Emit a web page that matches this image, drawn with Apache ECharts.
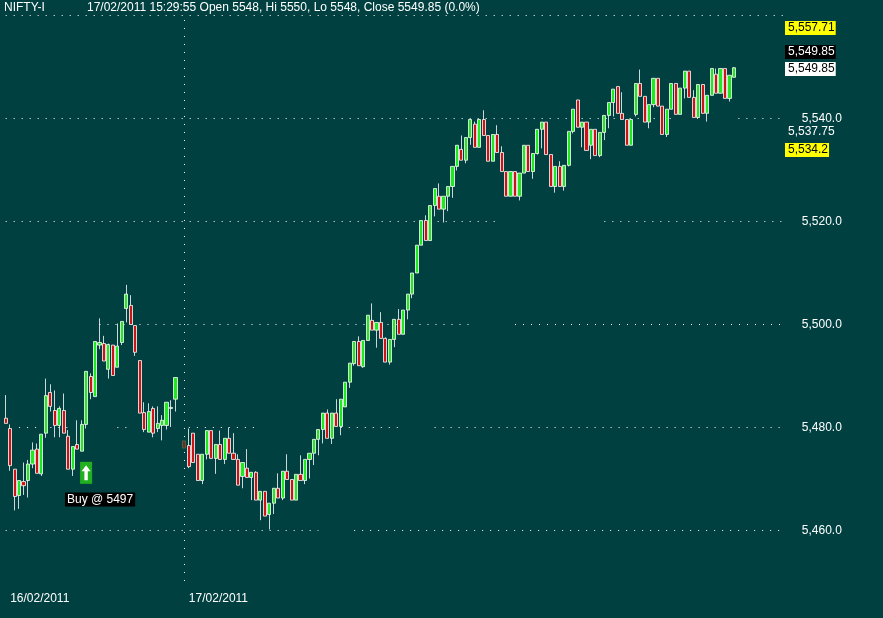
<!DOCTYPE html>
<html>
<head>
<meta charset="utf-8">
<style>html,body{margin:0;padding:0;background:#004040;overflow:hidden;width:883px;height:618px}#w{width:883px;height:618px;overflow:hidden}#c{width:883px;height:660px}</style>
<script src="https://cdn.jsdelivr.net/npm/echarts@6/dist/echarts.min.js"></script>
</head>
<body>
<div id="w"><div id="c"></div></div>
<script>
const symbolName = 'NIFTY-I';
const quoteLine = '17/02/2011 15:29:55 Open 5548, Hi 5550, Lo 5548, Close 5549.85 (0.0%)';
const dateLabels = {1: '16/02/2011', 41: '17/02/2011'};
const slotCount = 175;
const opens = [5481.8,5479.8,5471.9,5466.8,5469.5,5469.7,5472.9,5475.8,5471.0,5478.9,5486.8,5483.3,5480.4,5483.3,5478.3,5471.9,5476.7,5475.4,5480.6,5489.9,
5486.0,5496.0,5496.3,5491.3,5496.0,5491.7,5496.5,5503.1,5503.7,5499.8,5493.0,5482.9,5479.1,5483.7,5479.8,5480.4,5480.4,5483.7,5485.5,null,
5477.4,5476.5,5478.9,5474.8,5469.7,5474.8,5479.4,5474.0,5476.7,5473.8,5477.9,5475.0,5473.8,5470.5,5472.1,5470.3,5471.3,5465.9,5467.6,5463.1,
5465.3,5468.2,5466.3,5471.5,5469.9,5465.9,5470.9,5469.7,5473.8,5475.0,5477.7,5479.6,5482.8,5477.9,5482.8,5480.2,5484.0,5488.8,5492.4,5496.7,
5491.8,5496.9,5500.8,5498.9,5500.4,5497.3,5492.7,5497.1,5501.0,5498.1,5502.8,5505.9,5510.0,5515.4,5520.2,5516.3,5523.1,5524.9,5522.4,5524.9,
5526.8,5530.7,5534.0,5531.9,5536.3,5538.9,5534.4,5539.8,5536.7,5531.7,5536.9,5533.4,5529.7,5524.9,5529.7,5524.9,5529.4,5534.8,5529.7,5533.2,
5537.9,5539.3,5533.0,5526.8,5530.7,5526.8,5530.9,5537.5,5543.6,5538.3,5539.3,5534.8,5537.9,5532.8,5537.3,5540.6,5543.1,5546.2,5541.0,5539.8,
5534.8,5540.8,5546.8,5544.3,5539.3,5542.7,5547.8,5542.4,5536.9,5541.8,5546.8,5540.8,5545.9,5549.2,5544.1,5540.2,5546.6,5541.0,5544.5,5548.6,
5544.9,5549.7,5543.9,5548.0];
const closes = [5480.8,5472.6,5466.6,5469.7,5468.7,5472.9,5475.6,5471.1,5478.7,5486.2,5484.1,5480.4,5483.7,5478.9,5471.9,5476.3,5475.8,5480.6,5490.9,5486.8,
5496.7,5496.5,5492.9,5496.1,5490.1,5495.8,5500.6,5505.9,5500.0,5494.6,5482.8,5479.6,5483.1,5478.9,5480.8,5481.4,5484.9,5483.9,5489.7,null,
5476.0,5472.4,5473.2,5469.7,5474.8,5479.4,5474.0,5476.7,5473.8,5477.9,5475.0,5473.8,5468.8,5473.2,5470.3,5471.3,5465.9,5467.6,5462.8,5465.3,
5468.2,5466.3,5471.5,5469.9,5465.9,5470.9,5469.7,5473.8,5475.0,5477.7,5479.6,5482.8,5477.9,5482.8,5480.2,5485.5,5488.8,5492.5,5496.7,5492.0,
5496.9,5501.8,5498.9,5500.4,5497.3,5492.7,5497.1,5501.0,5498.1,5502.8,5505.9,5510.0,5515.4,5520.2,5516.3,5523.1,5526.4,5522.4,5524.9,5526.8,
5530.7,5534.8,5531.9,5536.3,5539.8,5534.4,5539.8,5536.7,5531.7,5536.9,5533.4,5529.7,5524.9,5529.7,5524.9,5529.4,5534.8,5529.7,5533.2,5537.9,
5539.3,5533.0,5526.8,5530.7,5526.8,5530.9,5537.5,5541.8,5538.3,5539.3,5533.8,5537.9,5532.8,5537.3,5540.6,5543.1,5545.7,5541.0,5539.8,5534.8,
5539.8,5546.8,5544.3,5539.3,5542.7,5547.8,5542.4,5536.9,5541.8,5546.8,5540.8,5545.9,5549.2,5544.1,5540.2,5546.6,5541.0,5544.5,5549.7,5544.9,
5549.7,5543.9,5548.4,5549.85];
const lows = [5480.8,5471.6,5463.9,5464.2,5466.9,5466.4,5472.1,5471.1,5470.6,5478.0,5483.1,5478.1,5478.1,5478.9,5471.9,5470.6,5475.8,5475.4,5479.8,5485.5,
5486.0,5495.2,5492.9,5489.5,5490.1,5491.7,5496.0,5500.4,5500.0,5493.9,5482.8,5479.1,5479.1,5478.1,5479.1,5477.5,5479.6,5480.1,5483.1,null,
5476.0,5472.1,5473.2,5469.7,5469.0,5473.8,5474.0,5471.0,5473.8,5472.9,5475.0,5473.8,5468.8,5468.2,5470.3,5465.9,5465.9,5462.0,5462.8,5460.2,
5463.2,5466.3,5465.9,5469.9,5465.9,5465.9,5469.7,5469.0,5470.1,5472.7,5474.6,5476.9,5477.9,5476.8,5480.2,5478.5,5484.0,5487.7,5492.0,5492.0,
5491.6,5496.9,5498.9,5495.5,5497.3,5492.7,5492.2,5495.6,5498.1,5498.1,5501.0,5505.1,5510.0,5515.4,5516.3,5516.3,5521.0,5522.4,5519.8,5522.0,
5524.6,5529.9,5531.9,5531.3,5534.9,5534.4,5534.4,5536.7,5531.7,5531.7,5533.4,5529.7,5524.9,5524.9,5524.9,5524.1,5529.4,5529.7,5528.3,5533.0,
5534.2,5533.0,5526.8,5525.6,5526.8,5526.0,5530.7,5537.1,5538.3,5534.4,5533.8,5532.1,5532.8,5532.5,5535.8,5538.1,5540.4,5541.0,5539.8,5534.8,
5534.8,5540.4,5544.3,5539.3,5538.1,5542.2,5542.4,5536.9,5536.4,5541.8,5540.8,5540.8,5543.9,5544.1,5540.2,5539.9,5541.0,5539.4,5544.5,5544.9,
5544.9,5543.9,5543.3,5548.0];
const highs = [5486.3,5480.6,5471.9,5469.7,5473.2,5473.7,5477.1,5476.9,5478.7,5489.5,5488.4,5487.2,5484.1,5486.6,5479.5,5476.3,5481.4,5481.4,5490.9,5490.5,
5496.7,5501.2,5497.8,5496.3,5496.0,5500.2,5500.6,5507.7,5505.7,5499.8,5493.0,5484.9,5484.7,5484.1,5484.1,5482.4,5484.9,5485.3,5489.7,null,
5477.4,5479.8,5478.9,5474.8,5474.8,5479.4,5479.4,5476.7,5479.4,5477.9,5480.0,5478.9,5474.8,5473.2,5475.8,5471.3,5471.5,5467.6,5467.6,5465.3,
5468.2,5471.1,5471.5,5474.8,5469.9,5470.9,5474.6,5473.8,5475.0,5477.7,5479.6,5482.8,5483.5,5482.8,5485.5,5485.5,5488.8,5492.5,5496.7,5497.7,
5496.9,5501.8,5504.1,5500.4,5502.4,5497.5,5497.1,5501.0,5503.0,5502.8,5505.9,5510.0,5515.4,5520.2,5521.2,5523.1,5526.4,5527.4,5524.9,5526.8,
5530.7,5534.8,5536.7,5536.3,5539.8,5539.4,5539.8,5541.6,5536.7,5536.9,5538.7,5534.6,5529.7,5529.7,5529.7,5529.4,5534.8,5534.8,5533.2,5537.9,
5539.3,5539.3,5533.0,5530.7,5531.7,5530.9,5537.5,5541.8,5543.6,5539.3,5539.3,5537.9,5537.9,5537.3,5540.6,5543.1,5545.7,5546.2,5545.1,5539.8,
5539.8,5546.8,5549.5,5544.3,5542.7,5547.8,5547.8,5542.4,5541.8,5546.8,5546.8,5545.9,5549.2,5549.2,5545.5,5546.6,5546.6,5544.5,5549.7,5549.7,
5549.7,5549.7,5548.4,5550.0];
const dimmedIndex = 40;
const buyIndex = 18, buyText = 'Buy @ 5497', buyArrowPrice = 5471.2, buyTextPrice = 5466.0;
const yMin = 5440, yMax = 5560, yStep = 20;
const sessionTop = 5559.13, sessionBottom = 5450;
// grid lines in the reference are broken into runs: [price, from, to] along the plot width
const gridRuns = [
  [5560,4,781],
  [5540,4,677],[5540,740,781],
  [5520,4,501],[5520,604,781],
  [5500,4,5],[5500,100,469],[5500,516,781],
  [5480,20,37],[5480,52,69],[5480,116,133],[5480,188,261],[5480,340,397],[5480,436,781],
  [5460,4,317],[5460,356,781]
];
const sessionLineX = 183.5;
const priceTags = [
  {text:'5,557.71', bg:'#ffff00', fg:'#000000', x:785, y:21},
  {text:'5,549.85', bg:'#000000', fg:'#ffffff', x:785, y:45},
  {text:'5,549.85', bg:'#ffffff', fg:'#000000', x:785, y:62},
  {text:'5,537.75', bg:'#004040', fg:'#ffffff', x:785, y:125},
  {text:'5,534.2',  bg:'#ffff00', fg:'#000000', x:785, y:143}
];

const UP = '#1fe81f', DOWN = '#cc1414', WHITE = '#ffffff', FONT = '"Liberation Sans", Arial, sans-serif';
const gridLeft = 3.44, gridWidth = 781.868;
const slotOf = x => (x - gridLeft) / (gridWidth / slotCount) - 0.5;
const categories = [];
for (let i = 0; i < slotCount; i++) categories.push(dateLabels[i] || '');
const candles = categories.map((_, i) => {
  if (opens[i] == null) return '-';
  const value = [opens[i], closes[i], lows[i], highs[i]];
  if (i === dimmedIndex) return {value, itemStyle:{color:'#802020', color0:'#802020', borderColor:'#3a7a4a', borderColor0:'#3a7a4a'}};
  return value;
});
const runs = gridRuns.map(r => [{coord:[slotOf(r[1]), r[0]]},{coord:[slotOf(r[2]), r[0]]}]);
runs.push([{coord:[slotOf(sessionLineX), sessionTop]},{coord:[slotOf(sessionLineX), sessionBottom]}]);
const chart = echarts.init(document.getElementById('c'), null, {renderer:'canvas'});
chart.setOption({
  animation:false,
  backgroundColor:'#004040',
  textStyle:{fontFamily:FONT},
  title:[
    {text:symbolName, left:4, top:2, padding:0, textStyle:{color:WHITE, fontSize:12, fontWeight:'normal', fontFamily:FONT}},
    {text:quoteLine, left:87, top:2, padding:0, textStyle:{color:WHITE, fontSize:12, fontWeight:'normal', fontFamily:FONT}}
  ],
  grid:{left:gridLeft, top:15.5, width:gridWidth, height:618, containLabel:false},
  xAxis:{
    type:'category', data:categories, boundaryGap:true,
    axisLine:{show:false}, axisTick:{show:false}, splitLine:{show:false},
    axisLabel:{color:WHITE, fontSize:12, fontFamily:FONT, align:'left', margin:-40.5, interval:(i, v) => v !== '', hideOverlap:false}
  },
  yAxis:{
    type:'value', position:'right', min:yMin, max:yMax, interval:yStep, scale:true,
    axisLine:{show:false}, axisTick:{show:false}, splitLine:{show:false},
    axisLabel:{color:WHITE, fontSize:12, fontFamily:FONT, margin:16.5,
      formatter:v => (v === yMax || v === yMin) ? '' : v.toLocaleString('en-US',{minimumFractionDigits:1, maximumFractionDigits:1})}
  },
  series:[{
    type:'candlestick', data:candles, barWidth:3.6, z:3,
    itemStyle:{color:UP, color0:DOWN, borderColor:WHITE, borderColor0:WHITE, borderWidth:0.8},
    markLine:{silent:true, symbol:'none', label:{show:false}, z:1,
      lineStyle:{color:WHITE, width:1, type:[1,7]},
      data:runs},
    markPoint:{silent:true, z:6, data:[
      {coord:[buyIndex, buyArrowPrice], symbol:'rect', symbolSize:[12,22], itemStyle:{color:'#20b020'}, label:{show:false}},
      {coord:[buyIndex, buyArrowPrice], symbol:'path://M4,0 L8,6 L5.5,6 L5.5,15 L2.5,15 L2.5,6 L0,6 Z', symbolSize:[9,15], symbolKeepAspect:false, itemStyle:{color:WHITE}, label:{show:false}},
      {coord:[buyIndex, buyTextPrice], symbol:'rect', symbolSize:1, itemStyle:{color:'rgba(0,0,0,0)'},
        label:{show:true, formatter:buyText, position:'inside', offset:[14,0], color:WHITE, fontSize:12, fontFamily:FONT, backgroundColor:'#000000', padding:[1,2,1,2]}}
    ]}
  }],
  graphic:priceTags.map(t => ({
    type:'text', x:t.x, y:t.y, z:100,
    style:{text:t.text, fill:t.fg, backgroundColor:t.bg, padding:[1,1,1,3], font:'12px '+FONT}
  }))
});
</script>
</body>
</html>
